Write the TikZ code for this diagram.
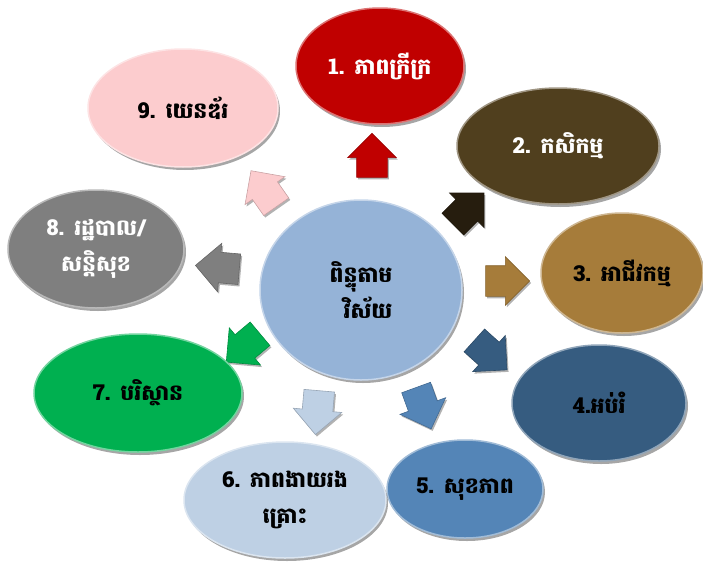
\documentclass[tikz,border=0pt]{standalone}
\usepackage{fontspec}
\setmainfont[Script=Khmer]{Battambang}
\usetikzlibrary{shapes.geometric,shapes.arrows,shadows}
\definecolor{cRed}{RGB}{192,0,0}
\definecolor{cPink}{RGB}{252,204,206}
\definecolor{cBrown}{RGB}{80,63,30}
\definecolor{cGold}{RGB}{166,124,58}
\definecolor{cNavy}{RGB}{54,92,128}
\definecolor{cSteel}{RGB}{84,133,183}
\definecolor{cLight}{RGB}{190,208,228}
\definecolor{cGreen}{RGB}{0,176,80}
\definecolor{cGray}{RGB}{127,127,127}
\definecolor{cCenter}{RGB}{149,179,215}
\definecolor{cBlack}{RGB}{38,29,14}
\tikzset{
  bubble/.style={ellipse, fill=#1, draw=#1!55!white, line width=1.5pt, inner sep=0pt,
    align=center, font=\fontsize{22}{36}\selectfont\bfseries,
    drop shadow={shadow xshift=2pt, shadow yshift=-3pt, opacity=0.35, fill=black}},
  blockarrow/.style={single arrow, fill=#1, draw=#1!80!black, line width=0.6pt,
    minimum height=44pt, single arrow head extend=9pt,
    single arrow head indent=0pt, inner xsep=0pt, inner ysep=15pt,
    drop shadow={shadow xshift=1.5pt, shadow yshift=-2pt, opacity=0.3, fill=black}}
}
\begin{document}
\begin{tikzpicture}[x=1pt,y=-1pt]
\useasboundingbox (0,0) rectangle (703,562);
% arrows
\node[blockarrow=cRed,   rotate=90]  (a1) at (372,163) {};
\node[blockarrow=cBlack, rotate=45]  (a2) at (463,214) {};
\node[blockarrow=cGold,  rotate=0]   (a3) at (500,281) {};
\node[blockarrow=cNavy,  rotate=-42] (a4) at (485,350) {};
\node[blockarrow=cSteel, rotate=-70] (a5) at (421,401) {};
\node[blockarrow=cLight, rotate=-95] (a6) at (318,405) {};
\node[blockarrow=cGreen, rotate=220] (a7) at (249,343) {};
\node[blockarrow=cGray,  rotate=175] (a8) at (225,268) {};
\node[blockarrow=cPink,  rotate=125] (a9) at (268,195) {};
% bubbles
\node[bubble=cCenter, minimum width=202pt, minimum height=180pt] (c) at (361,290) {ពិន្ទុតាម\\\hspace*{14pt}វិស័យ};
\node[bubble=cRed,   minimum width=168pt, minimum height=116pt, text=white] (b1) at (380,66) {1. ភាពក្រីក្រ};
\node[bubble=cBrown, minimum width=202pt, minimum height=116pt, text=white] (b2) at (558,146) {2. កសិកម្ម};
\node[bubble=cGold,  minimum width=162pt, minimum height=120pt] (b3) at (622,273) {3. អាជីវកម្ម};
\node[bubble=cNavy,  minimum width=174pt, minimum height=116pt] (b4) at (599,403) {4.អប់រំ};
\node[bubble=cSteel, minimum width=156pt, minimum height=98pt]  (b5) at (465,489) {5. សុខភាព};
\node[bubble=cLight, minimum width=202pt, minimum height=116pt] (b6) at (285,500) {6. ភាពងាយរង\\គ្រោះ};
\node[bubble=cGreen, minimum width=208pt, minimum height=118pt] (b7) at (138,393) {7. បរិស្ថាន};
\node[bubble=cGray,  minimum width=176pt, minimum height=118pt, text=white] (b8) at (96,249) {8. រដ្ឋបាល/\\សន្តិសុខ};
\node[bubble=cPink,  minimum width=190pt, minimum height=118pt] (b9) at (183,108) {9. យេនឌ័រ};
\end{tikzpicture}
\end{document}
